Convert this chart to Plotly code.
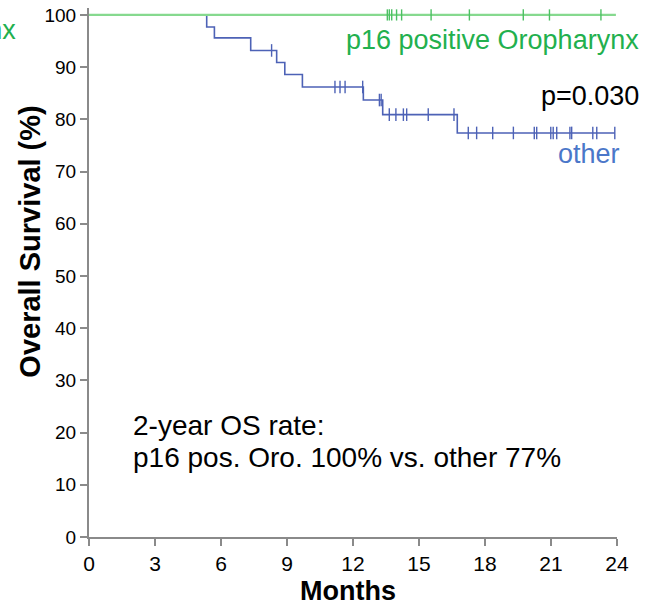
import plotly.graph_objects as go
import numpy as np

# ---- data (months, survival %) ----
other_step_t = [0, 5.35, 5.7, 7.35, 8.53, 8.9, 9.7, 12.47, 13.35, 16.74, 23.9]
other_step_s = [100, 97.7, 95.6, 93.2, 90.9, 88.6, 86.2, 83.7, 80.9, 77.4, 77.4]
other_censor_t = [8.3, 11.18, 11.41, 11.64, 12.44, 13.2, 13.28, 13.65, 13.95, 14.29,
                  14.44, 15.42, 16.59, 17.24, 17.62, 18.35, 19.29, 20.24, 20.35, 20.99,
                  21.1, 21.26, 21.86, 21.94, 22.9, 23.08, 23.9]

p16_step_t = [0, 23.95]
p16_step_s = [100, 100]
p16_censor_t = [13.56, 13.65, 13.76, 13.98, 14.21, 15.55, 17.29, 19.74, 20.93, 23.27]

x_ticks = [0, 3, 6, 9, 12, 15, 18, 21, 24]
y_ticks = [0, 10, 20, 30, 40, 50, 60, 70, 80, 90, 100]


def step_value(ts, ss, t):
    idx = np.searchsorted(ts, t, side="right") - 1
    return ss[max(idx, 0)]


other_censor_s = [step_value(other_step_t, other_step_s, t) for t in other_censor_t]
p16_censor_s = [step_value(p16_step_t, p16_step_s, t) for t in p16_censor_t]

BLUE = "#4d62b6"
BLUE_TXT = "#4b77c9"
GREEN_LINE = "#86d98f"
GREEN = "#22b04e"
AXIS = "#8a8a8a"
FONT = "Liberation Sans, Arial, sans-serif"

# plot area geometry (pixels) used to place free text in paper coordinates
L, R, T, B = 89, 42, 5, 70
W, H = 659, 607
PW, PH = W - L - R, H - T - B


def px(xp):
    return (xp - L) / PW


def py(yp):
    return (H - B - yp) / PH


fig = go.Figure()
fig.add_trace(go.Scatter(x=other_step_t, y=other_step_s, mode="lines",
                         line=dict(color=BLUE, width=1.6, shape="hv"),
                         hoverinfo="skip", showlegend=False))
fig.add_trace(go.Scatter(x=other_censor_t, y=other_censor_s, mode="markers",
                         marker=dict(symbol="line-ns", size=9,
                                     line=dict(color=BLUE, width=1.4)),
                         cliponaxis=False, showlegend=False))
fig.add_trace(go.Scatter(x=p16_step_t, y=p16_step_s, mode="lines",
                         line=dict(color=GREEN_LINE, width=2.2, shape="hv"),
                         hoverinfo="skip", showlegend=False))
fig.add_trace(go.Scatter(x=p16_censor_t, y=p16_censor_s, mode="markers",
                         marker=dict(symbol="line-ns", size=8,
                                     line=dict(color="#4cc063", width=1.4)),
                         cliponaxis=False, showlegend=False))

ann = [
    dict(text="p16 positive Oropharynx", x=px(641), y=py(37), xanchor="right",
         yanchor="middle", font=dict(size=27, color=GREEN)),
    dict(text="p16 positive Oropharynx", x=px(18), y=py(27), xanchor="right",
         yanchor="middle", font=dict(size=27, color=GREEN)),
    dict(text="p=0.030", x=px(641), y=py(93), xanchor="right", yanchor="middle",
         font=dict(size=27, color="black")),
    dict(text="other", x=px(622), y=py(152), xanchor="right", yanchor="middle",
         font=dict(size=27, color=BLUE_TXT)),
    dict(text="2-year OS rate:", x=px(131), y=py(425), xanchor="left", yanchor="middle",
         font=dict(size=28, color="black")),
    dict(text="p16 pos. Oro. 100% vs. other 77%", x=px(131), y=py(457), xanchor="left",
         yanchor="middle", font=dict(size=28, color="black")),
    dict(text="<b>Months</b>", x=px(348), y=py(591), xanchor="center", yanchor="middle",
         font=dict(size=27, color="black")),
    dict(text="<b>Overall Survival (%)</b>", x=px(30), y=py(240), xanchor="center",
         yanchor="middle", textangle=-90, font=dict(size=29, color="black")),
]
for a in ann:
    a["showarrow"] = False
    a["xref"] = "paper"
    a["yref"] = "paper"

fig.update_layout(
    width=W, height=H,
    margin=dict(l=L, r=R, t=T, b=B),
    paper_bgcolor="white", plot_bgcolor="white",
    font=dict(family=FONT, color="black"),
    annotations=ann,
    xaxis=dict(range=[0, 24], tickvals=x_ticks, ticktext=[str(v) for v in x_ticks],
               showgrid=False, zeroline=False, showline=True, linecolor=AXIS,
               linewidth=2, ticks="outside", ticklen=7, tickcolor=AXIS, tickwidth=2,
               tickfont=dict(size=21, family="Liberation Sans Narrow, Liberation Sans, Arial"),
               fixedrange=True),
    yaxis=dict(range=[0, 101.33], tickvals=y_ticks, ticktext=[str(v) for v in y_ticks],
               showgrid=False, zeroline=False, showline=True, linecolor=AXIS,
               linewidth=2, ticks="outside", ticklen=7, tickcolor=AXIS, tickwidth=2,
               tickfont=dict(size=19), ticklabelstandoff=0, fixedrange=True),
)

fig.write_html("out.html", config={"displayModeBar": False},
               post_script="document.body.style.margin='0px';document.body.style.overflow='hidden';")
